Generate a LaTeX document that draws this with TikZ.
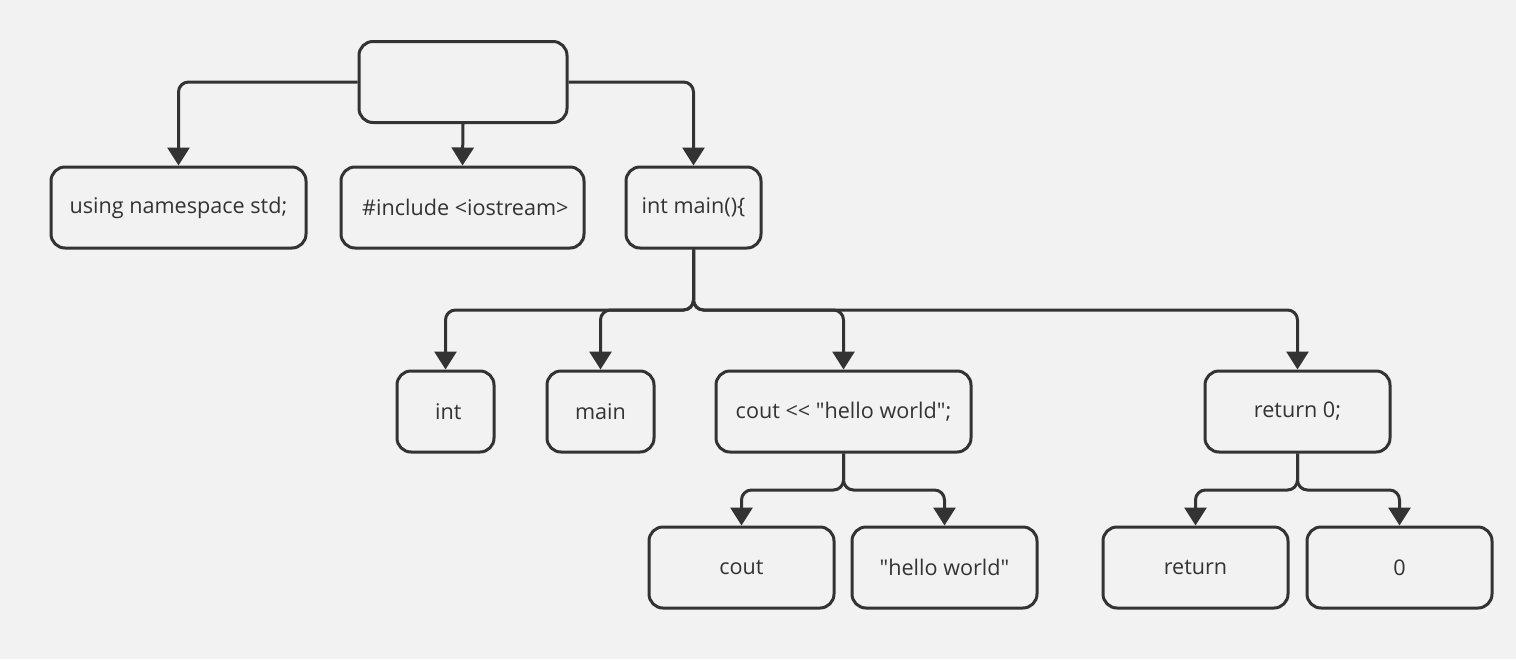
\documentclass[tikz,border=0pt]{standalone}
\usepackage{fontspec}
\setmainfont{Open Sans}[Ligatures=TeXOff]
\usetikzlibrary{arrows.meta}
\definecolor{bg}{HTML}{F2F2F2}
\definecolor{ink}{HTML}{333333}
\begin{document}
\begin{tikzpicture}[x=0.5pt, y=-0.5pt]
\tikzset{ >={Triangle[width=11pt,length=9pt]},
  box/.style={draw=ink, line width=1.5pt, rounded corners=7pt, minimum height=40.5pt,
              inner sep=0pt, text=ink, font=\fontsize{10.8}{13}\selectfont},
  wire/.style={ink, line width=1.5pt, rounded corners=5pt},
}

\fill [bg] (0,0) rectangle (1516,659);
\useasboundingbox (0,0) rectangle (1516,659);
%\draw [lightgray, dashed, step=100] (0,0) grid (1516,659);

\node [box, minimum width=104pt]   (R)  at (463,82)     { };
\node [box, minimum width=127.5pt] (U)  at (178.5,207.5) {using namespace std;};
\node [box, minimum width=121.5pt] (Inc) at (462.5,207.5) {\ \#include <iostream>};
\node [box, minimum width=67.5pt]  (M)  at (693.5,207.5) {int main()\{};

\node [box, minimum width=48.5pt]  (I)  at (445.5,411.5)  {\ int};
\node [box, minimum width=53.5pt]  (Mn) at (600.5,411.5)  {main};
\node [box, minimum width=127.5pt] (C)  at (843.5,411.5)  {cout <{}< "hello world";};
\node [box, minimum width=92.5pt]  (Rt) at (1297.5,411.5) {return 0;};

\node [box, minimum width=92.5pt]  (Co) at (741.5,567.5)  {cout};
\node [box, minimum width=92.5pt]  (H)  at (944.5,567.5)  {"hello world"};
\node [box, minimum width=92.5pt]  (Re) at (1195.5,567.5) {return};
\node [box, minimum width=92.5pt]  (Z)  at (1399.5,567.5) {0};

\coordinate (JM) at (693.5,310);
\coordinate (JC) at (843.5,490);
\coordinate (JR) at (1297.5,490);

\draw [wire, ->] (R.west)  -| (U.north);
\draw [wire, ->] (R.south) -- (Inc.north);
\draw [wire, ->] (R.east)  -| (M.north);

\draw [wire, ->] (M.south) -- (JM) -| (I.north);
\draw [wire, ->] (M.south) -- (JM) -| (Mn.north);
\draw [wire, ->] (M.south) -- (JM) -| (C.north);
\draw [wire, ->] (M.south) -- (JM) -| (Rt.north);

\draw [wire, ->] (C.south) -- (JC) -| (Co.north);
\draw [wire, ->] (C.south) -- (JC) -| (H.north);

\draw [wire, ->] (Rt.south) -- (JR) -| (Re.north);
\draw [wire, ->] (Rt.south) -- (JR) -| (Z.north);

\end{tikzpicture}
\end{document}
